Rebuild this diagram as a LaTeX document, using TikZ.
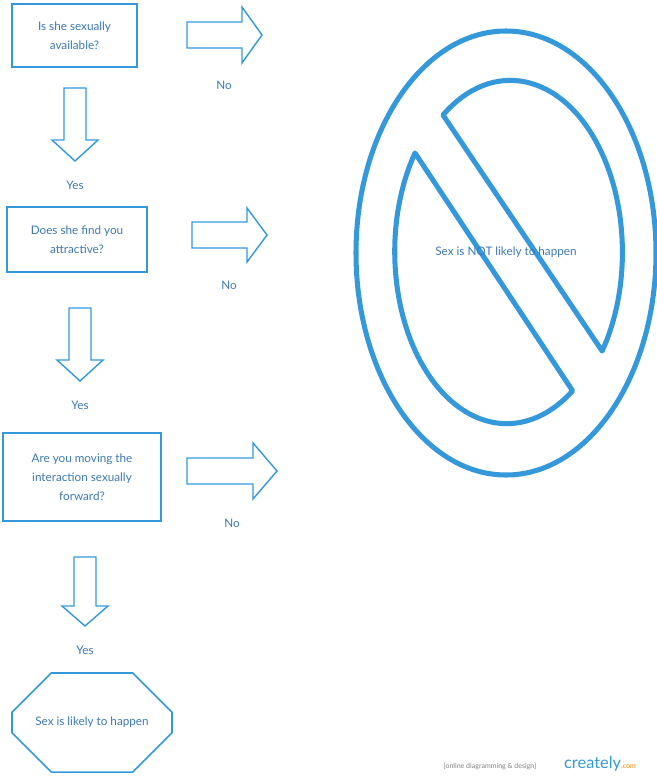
\documentclass[tikz,border=0pt]{standalone}
\usepackage{fontspec}
\setmainfont{Lato}
\usepackage{tikz}
\usetikzlibrary{shapes.misc}
\definecolor{cblue}{RGB}{52,152,219}
\definecolor{ctext}{RGB}{60,120,180}
\tikzstyle{question} = [rectangle, draw=cblue, line width=1.3pt, align=center, text=ctext, font=\fontsize{10}{16}\selectfont]
\tikzstyle{blockarrow} = [draw=cblue, line width=1.2pt, line join=miter]
\tikzstyle{answer} = [text=ctext, font=\fontsize{10}{12}\selectfont]
% right block arrow: x, y (shaft top), length, head length
\newcommand{\rarrow}[5]{\draw[blockarrow] (#1,#2) -- ++(#3-#4,0) -- ++(0,-#5) -- ++(#4,#5+13) -- ++(-#4,#5+13) -- ++(0,-#5) -- ++(#4-#3,0) -- cycle;}
% down block arrow: x (shaft left), y, length, head length
\newcommand{\darrow}[4]{\draw[blockarrow] (#1,#2) -- ++(0,#3-#4) -- ++(-12,0) -- ++(23,#4) -- ++(23,-#4) -- ++(-12,0) -- ++(0,#4-#3) -- cycle;}

\begin{document}
\begin{tikzpicture}[x=0.03cm, y=-0.03cm]
\useasboundingbox (0,0) rectangle (657,778);

% Questions
\node[question, minimum width=3.75cm, minimum height=1.89cm] (avail) at (74.5,35.5) {Is she sexually\\available?};
\node[question, minimum width=4.2cm, minimum height=1.95cm] (attract) at (77,239.5) {Does she find you\\attractive?};
\node[question, minimum width=4.74cm, minimum height=2.64cm] (forward) at (82,477) {Are you moving the\\interaction sexually\\forward?};
\node[chamfered rectangle, chamfered rectangle xsep=0.9cm, chamfered rectangle ysep=0.9cm, draw=cblue, line width=1.3pt, minimum width=4.8cm, minimum height=2.97cm, text=ctext, font=\fontsize{10}{12}\selectfont] (likely) at (92,722.5) {Sex is likely to happen};

% Block arrows
\darrow{64}{88}{73}{21}
\darrow{69}{308}{73}{21}
\darrow{74}{557}{69}{20}
\rarrow{187}{22}{75}{20}{15}
\rarrow{192}{222}{75}{20}{14}
\rarrow{187}{458}{90}{24}{15}

% Answers
\node[answer] (no1) at (224,85) {No};
\node[answer] (no2) at (229,285) {No};
\node[answer] (no3) at (232,523) {No};
\node[answer] (yes1) at (75,185) {Yes};
\node[answer] (yes2) at (80,405) {Yes};
\node[answer] (yes3) at (85,650) {Yes};

% No sign
\draw[cblue, line width=4.3pt] (506,253) ellipse [x radius=150, y radius=222];
\draw[cblue, line width=4.3pt, line join=round] (443,115) arc [start angle=-127, end angle=35, x radius=112, y radius=172] -- cycle;
\draw[cblue, line width=4.3pt, line join=round] (415,153) arc [start angle=215, end angle=54, x radius=112, y radius=172] -- cycle;
\node[answer] (notlikely) at (506,252) {Sex is NOT likely to happen};

% Watermark
\node[text=gray, font=\fontsize{6}{7}\selectfont] (wm) at (490,766) {[online diagramming \& design]};
\node[text=cblue, font=\fontsize{14}{14}\selectfont, anchor=west] (logo) at (560,764) {creately\textcolor{orange}{\fontsize{6}{7}\selectfont.com}};
\end{tikzpicture}
\end{document}
